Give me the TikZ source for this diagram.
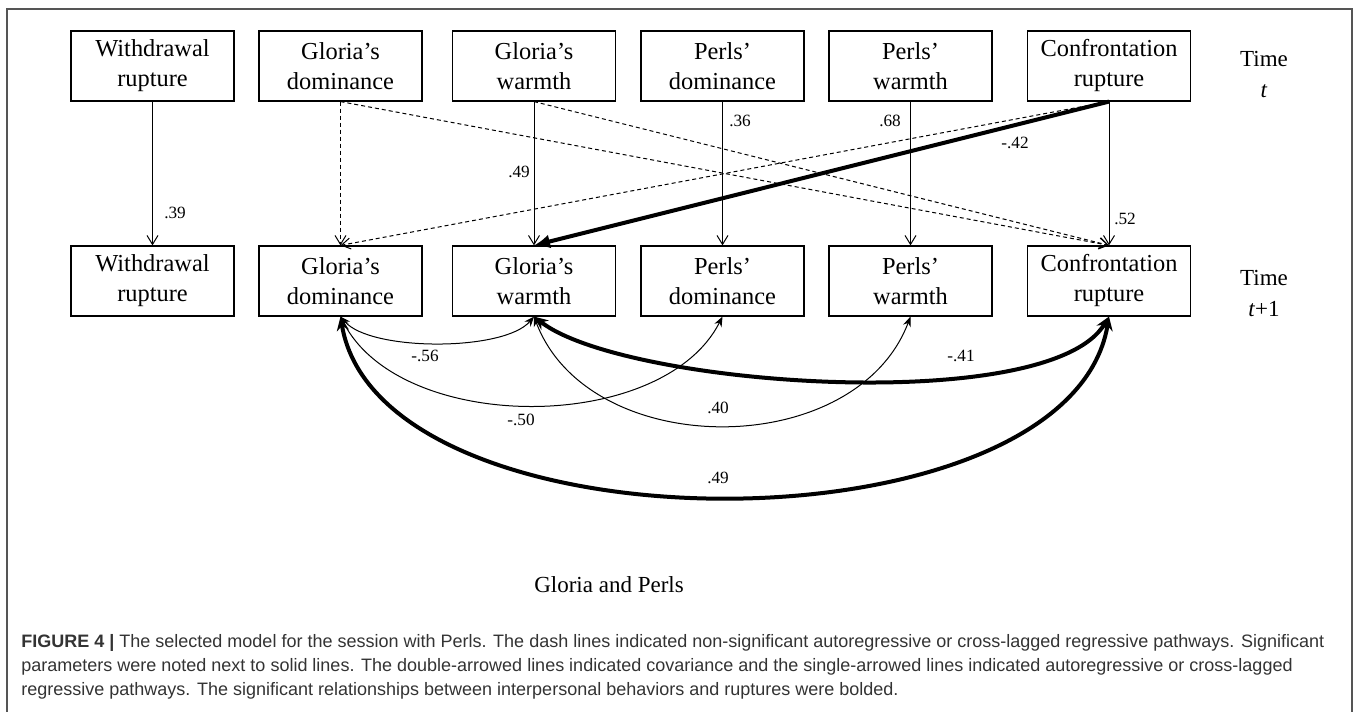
\documentclass[tikz,border=0pt]{standalone}
\usepackage{fontspec}
\setmainfont{Liberation Serif}
\newfontfamily\capfont{Liberation Sans}
\usepackage{tikz}
\usetikzlibrary{arrows.meta,positioning,calc}

\newcommand{\boxfont}{\fontsize{12.2}{15}\selectfont}
\newcommand{\labfont}{\fontsize{8.6}{10}\selectfont}
\definecolor{capgray}{HTML}{333333}
\definecolor{framegray}{HTML}{555555}

\tikzset{
  box/.style={draw,line width=0.6pt,minimum width=81.5pt,minimum height=35pt,
    align=center,inner sep=1pt,font=\boxfont},
  reg/.style={-{Straight Barb[length=4.5pt,width=5.5pt]},line width=0.5pt},
  ns/.style={reg,dash pattern=on 2pt off 1.5pt},
  sig/.style={-{Latex[length=8pt,width=7pt]},line width=2pt},
  cov/.style={{Stealth[length=5pt,width=4pt]}-{Stealth[length=5pt,width=4pt]},line width=0.5pt},
  covb/.style={{Stealth[length=7pt,width=6pt]}-{Stealth[length=7pt,width=6pt]},line width=2pt},
  lab/.style={font=\labfont,inner sep=0pt}
}

\begin{document}
\begin{tikzpicture}[x=0.5pt,y=0.5pt]
  \useasboundingbox (0,0) rectangle (1360,712);
  % 外框
  \draw[framegray,line width=0.75pt] (7,-10) |- (1352,703) -- (1352,-10);

  % 两行变量
  \foreach \x/\n/\t in {152.5/wr/{Withdrawal\\rupture},340.5/gd/{Gloria’s\\dominance},
      534/gw/{Gloria’s\\warmth},722.5/pd/{Perls’\\dominance},910.5/pw/{Perls’\\warmth},
      1109/cr/{Confrontation\\rupture}} {
    \node[box] (t\n) at (\x,646) {\t};
    \node[box] (b\n) at (\x,431) {\t};
  }
  \node[align=center,font=\fontsize{11.5}{15.5}\selectfont] (timet) at (1264,637) {Time\\\textit{t}};
  \node[align=center,font=\fontsize{11.5}{15.5}\selectfont] (timet1) at (1264,418) {Time\\\textit{t}+1};

  % 回归路径
  \draw[reg] (twr.south) -- (bwr.north);
  \draw[ns] (tgd.south) -- (bgd.north);
  \draw[ns] (tgd.south) -- (bcr.north);
  \draw[reg] (tgw.south) -- (bgw.north);
  \draw[ns] (tgw.south) -- (bcr.north);
  \draw[reg] (tpd.south) -- (bpd.north);
  \draw[reg] (tpw.south) -- (bpw.north);
  \draw[reg] (tcr.south) -- (bcr.north);
  \draw[ns] (tcr.south) -- (bgd.north);
  \draw[sig] (tcr.south) -- (bgw.north);
  \node[lab] (l39) at (175,499) {.39};
  \node[lab] (l49a) at (519,540) {.49};
  \node[lab] (l36) at (740,591) {.36};
  \node[lab] (l68) at (890,591) {.68};
  \node[lab] (l42) at (1015,569) {-.42};
  \node[lab] (l52) at (1125,493) {.52};

  % 协方差
  \draw[cov] (bgd.south) .. controls +(30,-35) and +(-30,-35) .. (bgw.south);
  \draw[cov] (bgd.south) .. controls +(60,-118) and +(-60,-118) .. (bpd.south);
  \draw[cov] (bgw.south) .. controls +(55,-145) and +(-55,-145) .. (bpw.south);
  \draw[covb] (bgw.south) .. controls +(90,-70) and +(-60,-100) .. (bcr.south);
  \draw[covb] (bgd.south) .. controls +(40,-240) and +(-40,-240) .. (bcr.south);
  \node[lab] (l56) at (425,356) {-.56};
  \node[lab] (l50) at (521,292) {-.50};
  \node[lab] (l40) at (718,304) {.40};
  \node[lab] (l41) at (961,356) {-.41};
  \node[lab] (l49b) at (718,234) {.49};

  % 标题与图注
  \node[font=\fontsize{11.5}{14}\selectfont] (title) at (609,127) {Gloria and Perls};
  \node[anchor=north west,align=left,inner sep=0pt,text=capgray,
    font=\capfont\fontsize{9}{12}\selectfont] (caption) at (21,78)
    {\textbf{FIGURE 4 |} The selected model for the session with Perls. The dash lines indicated non-significant autoregressive or cross-lagged regressive pathways. Significant\\
     parameters were noted next to solid lines. The double-arrowed lines indicated covariance and the single-arrowed lines indicated autoregressive or cross-lagged\\
     regressive pathways. The significant relationships between interpersonal behaviors and ruptures were bolded.};
\end{tikzpicture}
\end{document}
